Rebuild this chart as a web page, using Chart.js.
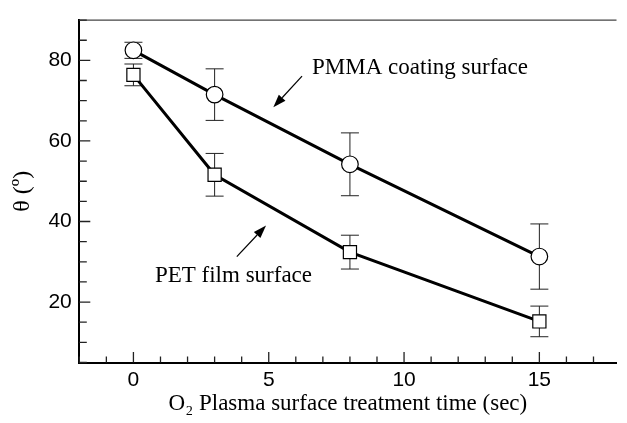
<!DOCTYPE html>
<html><head><meta charset="utf-8">
<script src="https://cdn.jsdelivr.net/npm/chart.js@4"></script>
<style>html,body{margin:0;padding:0;background:#fff;overflow:hidden}
#wrap{width:627px;height:423px;position:relative}</style></head>
<body><div id="wrap"><canvas id="c" width="627" height="423"></canvas></div>
<script>
// ---- data ----
const times = [0, 3, 8, 15];
const pmmaAngle = [82.5, 71.5, 54.2, 31.3];
const pmmaError = [2.0, 6.4, 7.8, 8.1];
const petAngle = [76.4, 51.6, 32.4, 15.2];
const petError = [2.7, 5.3, 4.2, 3.8];
const xMajorTicks = [0, 5, 10, 15];
const yMajorTicks = [20, 40, 60, 80];
const seriesNames = ['PMMA coating surface', 'PET film surface'];
const xTitle = 'O\u2082 Plasma surface treatment time (sec)';
const yTitle = '\u03B8 (\u00BA)';

// annotation anchors (data units)
const notes = [
  {text: seriesNames[0], x: 6.6, y: 76.6, align: 'left', tail: [6.23, 76.1], tip: [5.17, 68.35]},
  {text: seriesNames[1], x: 6.6, y: 25.0, align: 'right', tail: [3.82, 31.3], tip: [4.90, 39.0]}
];

const serif = "'Liberation Serif','Times New Roman',serif";
const sans = "'Liberation Sans',Arial,sans-serif";

function pts(xs, ys){ return xs.map((x,i)=>({x:x, y:ys[i]})); }
function range(a,b,s){ const r=[]; for(let v=a; v<=b+1e-9; v+=s) r.push(v); return r; }

const errorBars = {
  id: 'errorBars',
  beforeDatasetsDraw(chart){
    const {ctx, scales:{x, y}} = chart;
    const errs = [pmmaError, petError];
    const vals = [pmmaAngle, petAngle];
    ctx.save();
    ctx.strokeStyle = '#222'; ctx.lineWidth = 1;
    for(let d=0; d<2; d++){
      times.forEach((t,i)=>{
        const px = x.getPixelForValue(t);
        const top = y.getPixelForValue(vals[d][i] + errs[d][i]);
        const bot = y.getPixelForValue(vals[d][i] - errs[d][i]);
        ctx.beginPath();
        ctx.moveTo(px, top); ctx.lineTo(px, bot);
        ctx.moveTo(px-9, top); ctx.lineTo(px+9, top);
        ctx.moveTo(px-9, bot); ctx.lineTo(px+9, bot);
        ctx.stroke();
      });
    }
    ctx.restore();
  }
};

const frame = {
  id: 'frame',
  afterDraw(chart){
    const {ctx, chartArea:a, scales:{x, y}} = chart;
    ctx.save();
    // top border
    ctx.strokeStyle = '#444'; ctx.lineWidth = 1.3;
    ctx.beginPath(); ctx.moveTo(a.left, a.top); ctx.lineTo(a.right, a.top); ctx.stroke();
    // inward ticks
    ctx.strokeStyle = '#222'; ctx.lineWidth = 1.3;
    ctx.beginPath();
    x.ticks.forEach(t=>{
      const px = x.getPixelForValue(t.value);
      const len = xMajorTicks.includes(t.value) ? 10.5 : 6;
      ctx.moveTo(px, a.bottom); ctx.lineTo(px, a.bottom - len);
    });
    y.ticks.forEach(t=>{
      const py = y.getPixelForValue(t.value);
      const len = yMajorTicks.includes(t.value) ? 11 : 7.5;
      ctx.moveTo(a.left, py); ctx.lineTo(a.left + len, py);
    });
    ctx.stroke();
    // annotations
    ctx.fillStyle = '#000'; ctx.strokeStyle = '#000';
    ctx.font = '23px ' + serif;
    ctx.textBaseline = 'alphabetic';
    notes.forEach(n=>{
      ctx.textAlign = n.align;
      ctx.fillText(n.text, x.getPixelForValue(n.x), y.getPixelForValue(n.y));
      const x1 = x.getPixelForValue(n.tail[0]), y1 = y.getPixelForValue(n.tail[1]);
      const x2 = x.getPixelForValue(n.tip[0]), y2 = y.getPixelForValue(n.tip[1]);
      const ang = Math.atan2(y2-y1, x2-x1);
      const hl = 13, hw = 4.5;
      const bx = x2 - hl*Math.cos(ang), by = y2 - hl*Math.sin(ang);
      ctx.lineWidth = 1.2;
      ctx.beginPath(); ctx.moveTo(x1,y1); ctx.lineTo(bx,by); ctx.stroke();
      ctx.beginPath();
      ctx.moveTo(x2,y2);
      ctx.lineTo(bx + hw*Math.sin(ang), by - hw*Math.cos(ang));
      ctx.lineTo(bx - hw*Math.sin(ang), by + hw*Math.cos(ang));
      ctx.closePath(); ctx.fill();
    });
    ctx.restore();
  }
};

new Chart(document.getElementById('c'), {
  type: 'line',
  data: {
    datasets: [
      {label: seriesNames[0], data: pts(times, pmmaAngle), borderColor:'#000', borderWidth:3,
       pointStyle:'circle', pointRadius:8.3, pointBackgroundColor:'#fff', pointBorderColor:'#000', pointBorderWidth:1.2, tension:0},
      {label: seriesNames[1], data: pts(times, petAngle), borderColor:'#000', borderWidth:3,
       pointStyle:'rect', pointRadius:9.3, pointBackgroundColor:'#fff', pointBorderColor:'#000', pointBorderWidth:1.2, tension:0}
    ]
  },
  options: {
    responsive:false, animation:false,
    layout:{padding:{top:8, left:0, right:0, bottom:0}},
    plugins:{legend:{display:false}, tooltip:{enabled:false}},
    scales:{
      x:{type:'linear', min:-2, max:17.85,
        afterBuildTicks: s => { s.ticks = range(-2, 17, 1).map(v=>({value:v})); },
        afterFit: s => { s.height = 60.5; },
        grid:{display:false, drawTicks:false},
        border:{display:true, color:'#000', width:2},
        ticks:{autoSkip:false, maxRotation:0, padding:5, color:'#000', font:{family:sans, size:21},
          callback: v => xMajorTicks.includes(v) ? String(v) : ''},
        title:{display:true, text:xTitle, color:'#000', font:{family:serif, size:23}, padding:{top:0, bottom:5}}
      },
      y:{type:'linear', min:5, max:90,
        afterBuildTicks: s => { s.ticks = range(5, 90, 5).map(v=>({value:v})); },
        afterFit: s => { s.width = 79.3; },
        grid:{display:false, drawTicks:false},
        border:{display:true, color:'#000', width:2},
        ticks:{autoSkip:false, padding:7.5, color:'#000', font:{family:sans, size:21},
          callback: v => yMajorTicks.includes(v) ? String(v) : ''},
        title:{display:true, text:yTitle, color:'#000', font:{family:serif, size:24}, padding:{top:8, bottom:0}}
      }
    }
  },
  plugins:[errorBars, frame]
});
</script></body></html>
